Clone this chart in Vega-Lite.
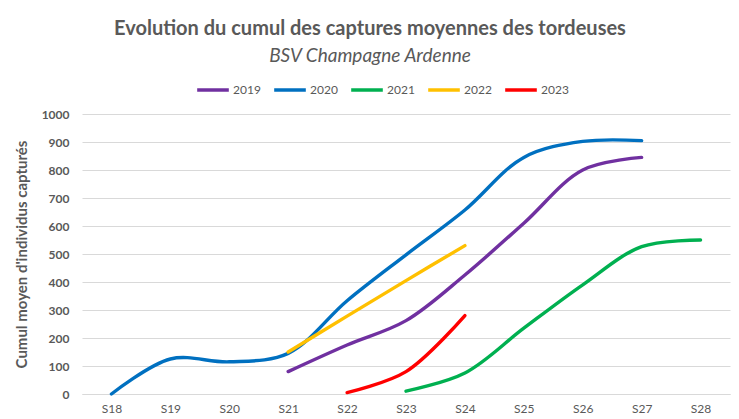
{
  "$schema": "https://vega.github.io/schema/vega-lite/v6.json",
  "autosize": {"type": "none"},
  "padding": {"left": 82, "top": 114, "right": 9, "bottom": 25},
  "width": 648,
  "height": 280,
  "background": "white",
  "title": {
    "text": "Evolution du cumul des captures moyennes des tordeuses",
    "subtitle": "BSV Champagne Ardenne",
    "font": "Lato",
    "fontSize": 20,
    "fontWeight": "bold",
    "color": "#595959",
    "subtitleFont": "Lato",
    "subtitleFontSize": 19,
    "subtitleFontStyle": "italic",
    "subtitleColor": "#595959",
    "subtitlePadding": 8,
    "anchor": "middle",
    "dx": -36,
    "offset": 6
  },
  "data": {
    "values": [
      {"semaine": "S21", "annee": "2019", "valeur": 80},
      {"semaine": "S22", "annee": "2019", "valeur": 175},
      {"semaine": "S23", "annee": "2019", "valeur": 262},
      {"semaine": "S24", "annee": "2019", "valeur": 425},
      {"semaine": "S25", "annee": "2019", "valeur": 610},
      {"semaine": "S26", "annee": "2019", "valeur": 800},
      {"semaine": "S27", "annee": "2019", "valeur": 845},
      {"semaine": "S18", "annee": "2020", "valeur": 0},
      {"semaine": "S19", "annee": "2020", "valeur": 125},
      {"semaine": "S20", "annee": "2020", "valeur": 115},
      {"semaine": "S21", "annee": "2020", "valeur": 145},
      {"semaine": "S22", "annee": "2020", "valeur": 333},
      {"semaine": "S23", "annee": "2020", "valeur": 497},
      {"semaine": "S24", "annee": "2020", "valeur": 657},
      {"semaine": "S25", "annee": "2020", "valeur": 845},
      {"semaine": "S26", "annee": "2020", "valeur": 902},
      {"semaine": "S27", "annee": "2020", "valeur": 905},
      {"semaine": "S23", "annee": "2021", "valeur": 10},
      {"semaine": "S24", "annee": "2021", "valeur": 75},
      {"semaine": "S25", "annee": "2021", "valeur": 235},
      {"semaine": "S26", "annee": "2021", "valeur": 390},
      {"semaine": "S27", "annee": "2021", "valeur": 526},
      {"semaine": "S28", "annee": "2021", "valeur": 550},
      {"semaine": "S21", "annee": "2022", "valeur": 150},
      {"semaine": "S22", "annee": "2022", "valeur": 278},
      {"semaine": "S23", "annee": "2022", "valeur": 405},
      {"semaine": "S24", "annee": "2022", "valeur": 530},
      {"semaine": "S22", "annee": "2023", "valeur": 5},
      {"semaine": "S23", "annee": "2023", "valeur": 80},
      {"semaine": "S24", "annee": "2023", "valeur": 280}
    ]
  },
  "mark": {"type": "line", "interpolate": "catmull-rom", "strokeWidth": 3.4, "strokeCap": "round"},
  "encoding": {
    "x": {
      "field": "semaine",
      "type": "ordinal",
      "scale": {"type": "point", "padding": 0.5, "domain": ["S18","S19","S20","S21","S22","S23","S24","S25","S26","S27","S28"]},
      "axis": {
        "title": null,
        "labelAngle": 0,
        "labelFont": "Lato",
        "labelFontSize": 12,
        "labelColor": "#595959",
        "ticks": false,
        "domain": true,
        "domainColor": "#d9d9d9",
        "labelPadding": 9,
        "grid": false
      }
    },
    "y": {
      "field": "valeur",
      "type": "quantitative",
      "scale": {"domain": [0, 1000]},
      "axis": {
        "title": "Cumul moyen d'individus capturés",
        "titleFont": "Lato",
        "titleFontSize": 15,
        "titleFontWeight": "bold",
        "titleColor": "#595959",
        "titlePadding": 12,
        "values": [0,100,200,300,400,500,600,700,800,900,1000],
        "format": "d",
        "labelFont": "Lato",
        "labelFontSize": 12,
        "labelFontWeight": "bold",
        "labelColor": "#595959",
        "labelPadding": 13,
        "ticks": false,
        "domain": false,
        "grid": true,
        "gridColor": "#d9d9d9",
        "gridWidth": 1.2
      }
    },
    "color": {
      "field": "annee",
      "type": "nominal",
      "scale": {"domain": ["2019","2020","2021","2022","2023"], "range": ["#7030A0","#0070C0","#00B050","#FFC000","#FF0000"]},
      "legend": {
        "title": null,
        "orient": "none",
        "legendX": 113,
        "legendY": -42,
        "direction": "horizontal",
        "symbolType": "stroke",
        "symbolSize": 1000,
        "symbolStrokeWidth": 3.5,
        "labelFont": "Lato",
        "labelFontSize": 12,
        "labelColor": "#595959",
        "labelOffset": 2,
        "columnPadding": 6
      }
    }
  },
  "config": {"view": {"stroke": null}}
}
